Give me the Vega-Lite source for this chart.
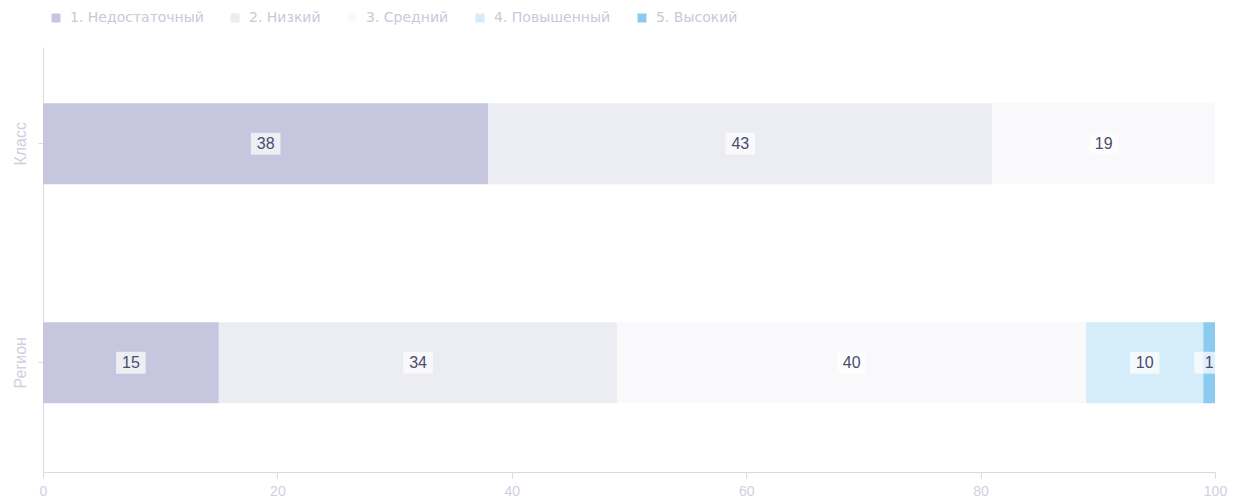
{
  "$schema": "https://vega.github.io/schema/vega-lite/v6.json",
  "width": 1172,
  "height": 425,
  "autosize": {"type": "none"},
  "padding": {"left": 43, "top": 47, "right": 23, "bottom": 32},
  "background": "white",
  "config": {
    "font": "Liberation Sans",
    "view": {"stroke": null},
    "axis": {"grid": false, "domainColor": "#d8d8e6", "tickColor": "#d8d8e6", "labelColor": "#cfd0e0", "titleColor": "#cfd0e0"},
    "legend": {"labelColor": "#c8c9da"}
  },
  "data": {
    "values": [
      {"group": "Класс", "level": "1. Недостаточный", "value": 38},
      {"group": "Класс", "level": "2. Низкий", "value": 43},
      {"group": "Класс", "level": "3. Средний", "value": 19},
      {"group": "Регион", "level": "1. Недостаточный", "value": 15},
      {"group": "Регион", "level": "2. Низкий", "value": 34},
      {"group": "Регион", "level": "3. Средний", "value": 40},
      {"group": "Регион", "level": "4. Повышенный", "value": 10},
      {"group": "Регион", "level": "5. Высокий", "value": 1}
    ]
  },
  "transform": [
    {"stack": "value", "groupby": ["group"], "sort": [{"field": "level", "order": "ascending"}], "as": ["x0", "x1"]},
    {"calculate": "(datum.x0 + datum.x1) / 2", "as": "xmid"}
  ],
  "encoding": {
    "y": {
      "field": "group", "type": "nominal", "title": null,
      "sort": ["Класс", "Регион"],
      "scale": {"paddingInner": 0.63, "paddingOuter": 0.2855, "align": 0.45},
      "axis": {"labelAngle": -90, "labelFontSize": 16, "labelPadding": 10, "tickSize": 5, "labelAlign": "center", "labelBaseline": "bottom"}
    }
  },
  "layer": [
    {
      "mark": {"type": "bar"},
      "encoding": {
        "x": {
          "field": "x0", "type": "quantitative", "title": null,
          "scale": {"domain": [0, 100], "nice": false},
          "axis": {"values": [0, 20, 40, 60, 80, 100], "labelFontSize": 14, "tickSize": 6, "labelPadding": 6, "labelFlush": false}
        },
        "x2": {"field": "x1"},
        "color": {
          "field": "level", "type": "nominal",
          "scale": {
            "domain": ["1. Недостаточный", "2. Низкий", "3. Средний", "4. Повышенный", "5. Высокий"],
            "range": ["#c6c7de", "#ececf3", "#f9f9fb", "#d5ecf9", "#8ccbf0"]
          },
          "legend": {
            "title": null, "orient": "none", "legendX": 6, "legendY": -36, "direction": "horizontal",
            "symbolType": "square", "symbolSize": 80, "labelFontSize": 14, "labelFont": "DejaVu Sans",
            "columnPadding": 24, "labelOffset": 7
          }
        }
      }
    },
    {
      "mark": {"type": "point", "filled": true, "color": "white", "opacity": 0.7, "shape": "M-1.35,-1H1.35V1H-1.35Z", "size": 480},
      "encoding": {
        "x": {"field": "xmid", "type": "quantitative"}
      }
    },
    {
      "mark": {"type": "text", "fontSize": 16, "color": "#4b4b6e", "align": "center", "baseline": "middle"},
      "encoding": {
        "x": {"field": "xmid", "type": "quantitative"},
        "text": {"field": "value", "type": "quantitative"}
      }
    }
  ]
}
